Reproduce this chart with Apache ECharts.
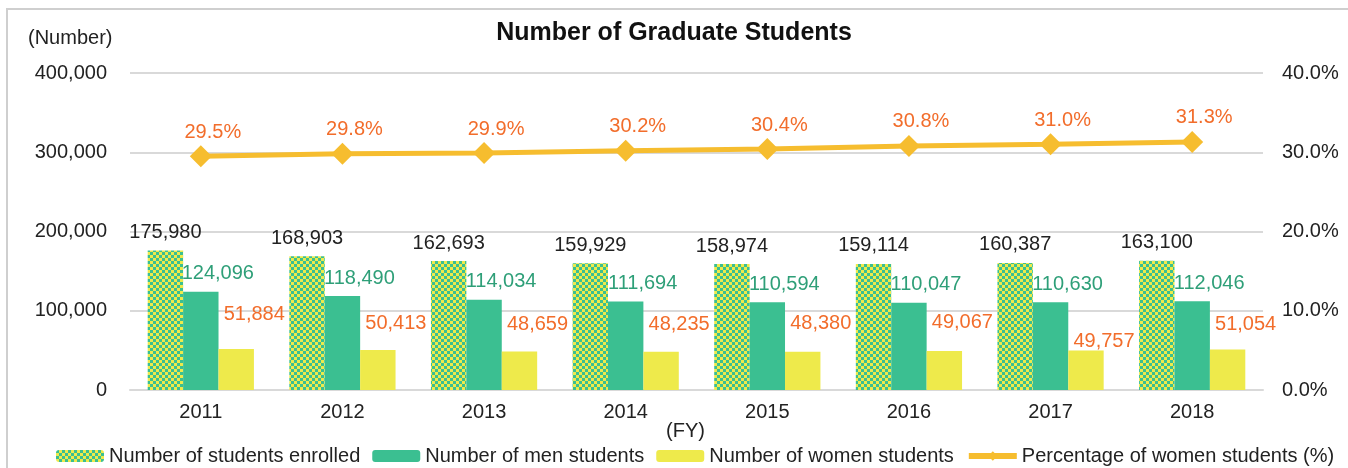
<!DOCTYPE html>
<html>
<head>
<meta charset="utf-8">
<script src="https://cdn.jsdelivr.net/npm/echarts@6/dist/echarts.min.js"></script>
<style>
  html, body { margin: 0; padding: 0; background: #fff; }
  #frame { position: absolute; left: 6px; top: 8px; width: 1400px; height: 500px;
           border-left: 2px solid #cfcfcf; border-top: 2px solid #cfcfcf; }
  #chart { position: absolute; left: 0; top: 0; width: 1348px; height: 468px; }
</style>
</head>
<body>
<div id="frame"></div>
<div id="chart"></div>
<script>
const years = ['2011', '2012', '2013', '2014', '2015', '2016', '2017', '2018'];
const enrolled = [175980, 168903, 162693, 159929, 158974, 159114, 160387, 163100];
const men = [124096, 118490, 114034, 111694, 110594, 110047, 110630, 112046];
const women = [51884, 50413, 48659, 48235, 48380, 49067, 49757, 51054];
const womenPct = [29.5, 29.8, 29.9, 30.2, 30.4, 30.8, 31.0, 31.3];

// label nudges (layout only)
const womenDy = [-19, -12, -12, -12, -13, -14, 6, -10];

const GREEN = '#3bbf91';
const YELLOW = '#eeea4b';
const GOLD = '#f6bd2f';
const ORANGE = '#f26d2b';
const FONT = 'Liberation Sans, Arial, sans-serif';

// checkered fill for the "enrolled" bars
const tile = document.createElement('canvas');
tile.width = 6; tile.height = 6;
const tctx = tile.getContext('2d');
tctx.fillStyle = YELLOW; tctx.fillRect(0, 0, 6, 6);
tctx.fillStyle = GREEN; tctx.fillRect(0, 0, 3, 3); tctx.fillRect(3, 3, 3, 3);
const checker = { image: tile, repeat: 'repeat' };

const fmtNum = v => v.toLocaleString('en-US');

const chart = echarts.init(document.getElementById('chart'));
const option = {
    animation: false,
    textStyle: { fontFamily: FONT },
    title: {
        text: 'Number of Graduate Students',
        left: 'center',
        top: 16,
        textStyle: { fontSize: 25, fontWeight: 'bold', color: '#111', fontFamily: FONT }
    },
    graphic: [
        { type: 'text', left: 28, top: 28, style: { text: '(Number)', fill: '#222', font: '20px ' + FONT } },
        { type: 'text', left: 666, top: 421, style: { text: '(FY)', fill: '#222', font: '20px ' + FONT } }
    ],
    legend: {
        left: 51,
        top: 441,
        itemWidth: 48,
        itemHeight: 12,
        itemGap: 12,
        textStyle: { fontSize: 20, color: '#222', fontFamily: FONT },
        data: [
            'Number of students enrolled',
            'Number of men students',
            'Number of women students',
            { name: 'Percentage of women students (%)', lineStyle: { width: 6 } }
        ]
    },
    grid: { left: 130, right: 85, top: 73, bottom: 78 },
    xAxis: {
        type: 'category',
        data: years,
        axisTick: { show: false },
        axisLine: { lineStyle: { color: '#d9d9d9', width: 2 } },
        axisLabel: { fontSize: 20, color: '#222', margin: 12 }
    },
    yAxis: [
        {
            type: 'value', min: 0, max: 400000, interval: 100000,
            axisLabel: { fontSize: 20, color: '#222', margin: 23, formatter: fmtNum },
            splitLine: { lineStyle: { color: '#d9d9d9', width: 2 } },
            axisLine: { show: false }, axisTick: { show: false }
        },
        {
            type: 'value', min: 0, max: 40, interval: 10,
            axisLabel: { fontSize: 20, color: '#222', margin: 19, formatter: v => v.toFixed(1) + '%' },
            splitLine: { show: false },
            axisLine: { show: false }, axisTick: { show: false }
        }
    ],
    series: [
        {
            name: 'Number of students enrolled',
            type: 'bar',
            barGap: '0%',
            barCategoryGap: '25%',
            itemStyle: { color: checker },
            data: enrolled,
            label: { show: true, position: 'top', offset: [0, -3], fontSize: 20, color: '#222', formatter: p => fmtNum(p.value) }
        },
        {
            name: 'Number of men students',
            type: 'bar',
            itemStyle: { color: GREEN },
            data: men,
            label: { show: true, position: 'top', offset: [17, -3], fontSize: 20, color: '#2e9f78', formatter: p => fmtNum(p.value) }
        },
        {
            name: 'Number of women students',
            type: 'bar',
            itemStyle: { color: YELLOW },
            data: women.map((v, i) => ({
                value: v,
                label: { offset: [18, womenDy[i]] }
            })),
            label: { show: true, position: 'top', fontSize: 20, color: ORANGE, formatter: p => fmtNum(p.value) }
        },
        {
            name: 'Percentage of women students (%)',
            type: 'line',
            yAxisIndex: 1,
            data: womenPct,
            symbol: 'diamond',
            symbolSize: 22,
            z: 5,
            lineStyle: { color: GOLD, width: 5 },
            itemStyle: { color: GOLD },
            label: { show: true, position: 'top', offset: [12, 2], fontSize: 20, color: ORANGE, formatter: p => p.value.toFixed(1) + '%' }
        }
    ]
};
chart.setOption(option);
</script>
</body>
</html>
